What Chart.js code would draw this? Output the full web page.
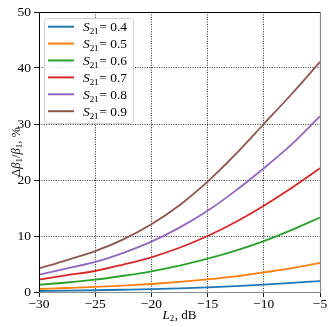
<!DOCTYPE html>
<html>
<head>
<meta charset="utf-8">
<script src="https://cdn.jsdelivr.net/npm/chart.js@4/dist/chart.umd.min.js"></script>
<style>
html,body{margin:0;padding:0;background:#fff;}
#wrap{width:332px;height:327px;position:relative;}
</style>
</head>
<body>
<div id="wrap"><canvas id="c" width="332" height="327"></canvas></div>
<script>
// L2, dB
const L2 = [-30, -27.5, -25, -22.5, -20, -17.5, -15, -12.5, -10, -7.5, -5];
const seriesNames = ['0.4', '0.5', '0.6', '0.7', '0.8', '0.9'];
// Δβ1/β1, %
const s04 = [0.18, 0.24, 0.31, 0.40, 0.50, 0.64, 0.83, 1.05, 1.32, 1.62, 1.96];
const s05 = [0.54, 0.71, 0.90, 1.15, 1.43, 1.80, 2.26, 2.80, 3.50, 4.25, 5.20];
const s06 = [1.30, 1.70, 2.20, 2.90, 3.70, 4.70, 5.95, 7.40, 9.10, 11.1, 13.3];
const s07 = [2.20, 3.00, 3.75, 4.90, 6.20, 7.90, 10.0, 12.5, 15.4, 18.6, 22.1];
const s08 = [3.10, 4.20, 5.36, 7.00, 9.00, 11.5, 14.5, 18.1, 22.1, 26.4, 31.4];
const s09 = [4.20, 5.70, 7.30, 9.40, 12.1, 15.5, 19.7, 24.6, 30.0, 35.4, 41.1];
const xTicks = [-30, -25, -20, -15, -10, -5];
const yTicks = [0, 10, 20, 30, 40, 50];

const colors = ['#1f77b4', '#ff7f0e', '#2ca02c', '#d62728', '#9467bd', '#8c564b'];
const allSeries = [s04, s05, s06, s07, s08, s09];
const SERIF = '"Liberation Serif", "DejaVu Serif", serif';

const datasets = allSeries.map((s, i) => ({
  label: 'S21 = ' + seriesNames[i],
  data: L2.map((x, j) => ({x: x, y: s[j]})),
  borderColor: colors[i],
  backgroundColor: colors[i],
  borderWidth: 1.8,
  pointRadius: 0,
  cubicInterpolationMode: 'monotone',
  fill: false
}));

function drawRuns(ctx, runs, size) {
  let w = 0;
  const parts = runs.map(r => {
    const fs = r.sub ? Math.round(size * 0.7) : size;
    const font = (r.i ? 'italic ' : '') + fs + 'px ' + SERIF;
    ctx.font = font;
    const m = ctx.measureText(r.t).width;
    const p = {t: r.t, font: font, w: m, dy: r.sub ? size * 0.22 : 0, gap: r.gap || 0};
    w += m + p.gap;
    return p;
  });
  return {parts, w};
}
function paintRuns(ctx, layout, x, y) {
  let cx = x;
  layout.parts.forEach(p => {
    cx += p.gap;
    ctx.font = p.font;
    ctx.fillText(p.t, cx, y + p.dy);
    cx += p.w;
  });
}

const decor = {
  id: 'decor',
  afterDatasetsDraw(chart) {
    const ctx = chart.ctx;
    const a = chart.chartArea;
    ctx.save();
    // frame
    ctx.lineWidth = 1;
    ctx.strokeStyle = '#000';
    ctx.beginPath();
    ctx.moveTo(Math.round(a.left) + 0.5, Math.round(a.bottom));
    ctx.lineTo(Math.round(a.left) + 0.5, Math.round(a.top) + 0.5);
    ctx.lineTo(Math.round(a.right), Math.round(a.top) + 0.5);
    ctx.stroke();
    ctx.strokeStyle = '#8a8a8a';
    ctx.lineWidth = 1.2;
    ctx.beginPath();
    ctx.moveTo(Math.round(a.right) + 0.5, Math.round(a.top));
    ctx.lineTo(Math.round(a.right) + 0.5, Math.round(a.bottom) + 0.5);
    ctx.lineTo(Math.round(a.left), Math.round(a.bottom) + 0.5);
    ctx.stroke();

    // legend
    const lx = 44, ly = 18, lw = 89, lh = 105;
    ctx.fillStyle = 'rgba(255,255,255,0.85)';
    ctx.strokeStyle = '#d0d0d0';
    ctx.lineWidth = 1;
    ctx.beginPath();
    if (ctx.roundRect) ctx.roundRect(lx + 0.5, ly + 0.5, lw, lh, 3); else ctx.rect(lx + 0.5, ly + 0.5, lw, lh);
    ctx.fill();
    ctx.stroke();
    ctx.textBaseline = 'alphabetic';
    ctx.textAlign = 'left';
    chart.data.datasets.forEach((ds, i) => {
      const cy = 26.7 + 16.9 * i;
      ctx.strokeStyle = ds.borderColor;
      ctx.lineWidth = 2;
      ctx.beginPath();
      ctx.moveTo(48, cy);
      ctx.lineTo(74, cy);
      ctx.stroke();
      ctx.fillStyle = '#000';
      const lay = drawRuns(ctx, [
        {t: 'S', i: true},
        {t: '21', sub: true},
        {t: '= ' + seriesNames[i], gap: 0.5}
      ], 13.5);
      paintRuns(ctx, lay, 83, cy + 4.5);
    });

    // axis titles
    ctx.fillStyle = '#000';
    const xt = drawRuns(ctx, [
      {t: 'L', i: true},
      {t: '2', sub: true},
      {t: ', dB', gap: 0.5}
    ], 13);
    paintRuns(ctx, xt, (a.left + a.right) / 2 - xt.w / 2, 318.5);

    const yt = drawRuns(ctx, [
      {t: 'Δ'},
      {t: 'β', i: true},
      {t: '1', sub: true},
      {t: '/'},
      {t: 'β', i: true},
      {t: '1', sub: true},
      {t: ', %'}
    ], 12.5);
    ctx.translate(19.5, (a.top + a.bottom) / 2);
    ctx.rotate(-Math.PI / 2);
    paintRuns(ctx, yt, -yt.w / 2, 0);
    ctx.restore();
  }
};

const minus = v => String(v).replace('-', '\u2212');

new Chart(document.getElementById('c'), {
  type: 'line',
  data: {datasets},
  plugins: [decor],
  options: {
    responsive: false,
    animation: false,
    devicePixelRatio: 1,
    layout: {padding: {left: 0, right: 12, top: 12, bottom: 0}},
    plugins: {legend: {display: false}, tooltip: {enabled: false}},
    scales: {
      x: {
        type: 'linear',
        min: xTicks[0], max: xTicks[xTicks.length - 1],
        afterBuildTicks: s => { s.ticks = xTicks.map(v => ({value: v})); },
        afterFit: s => { s.height = 35; },
        ticks: {
          color: '#000', font: {family: SERIF, size: 13.5},
          padding: -1, maxRotation: 0, autoSkip: false,
          callback: v => minus(v)
        },
        grid: {
          color: c => (c.tick && (c.tick.value === xTicks[0] || c.tick.value === xTicks[xTicks.length - 1])) ? 'rgba(0,0,0,0)' : 'rgba(0,0,0,0.9)',
          lineWidth: 0.9,
          tickColor: '#000', tickLength: 5, tickWidth: 0.9, tickBorderDash: [],
          drawTicks: true
        },
        border: {display: false, dash: [1, 1.4]}
      },
      y: {
        type: 'linear',
        min: yTicks[0], max: yTicks[yTicks.length - 1],
        afterBuildTicks: s => { s.ticks = yTicks.map(v => ({value: v})); },
        afterFit: s => { s.width = 39; },
        ticks: {
          color: '#000', font: {family: SERIF, size: 13.5},
          padding: 3, autoSkip: false,
          callback: v => minus(v)
        },
        grid: {
          color: c => (c.tick && (c.tick.value === yTicks[0] || c.tick.value === yTicks[yTicks.length - 1])) ? 'rgba(0,0,0,0)' : 'rgba(0,0,0,0.9)',
          lineWidth: 0.9,
          tickColor: '#000', tickLength: 5, tickWidth: 0.9, tickBorderDash: [],
          drawTicks: true
        },
        border: {display: false, dash: [1, 1.4]}
      }
    }
  }
});
</script>
</body>
</html>
